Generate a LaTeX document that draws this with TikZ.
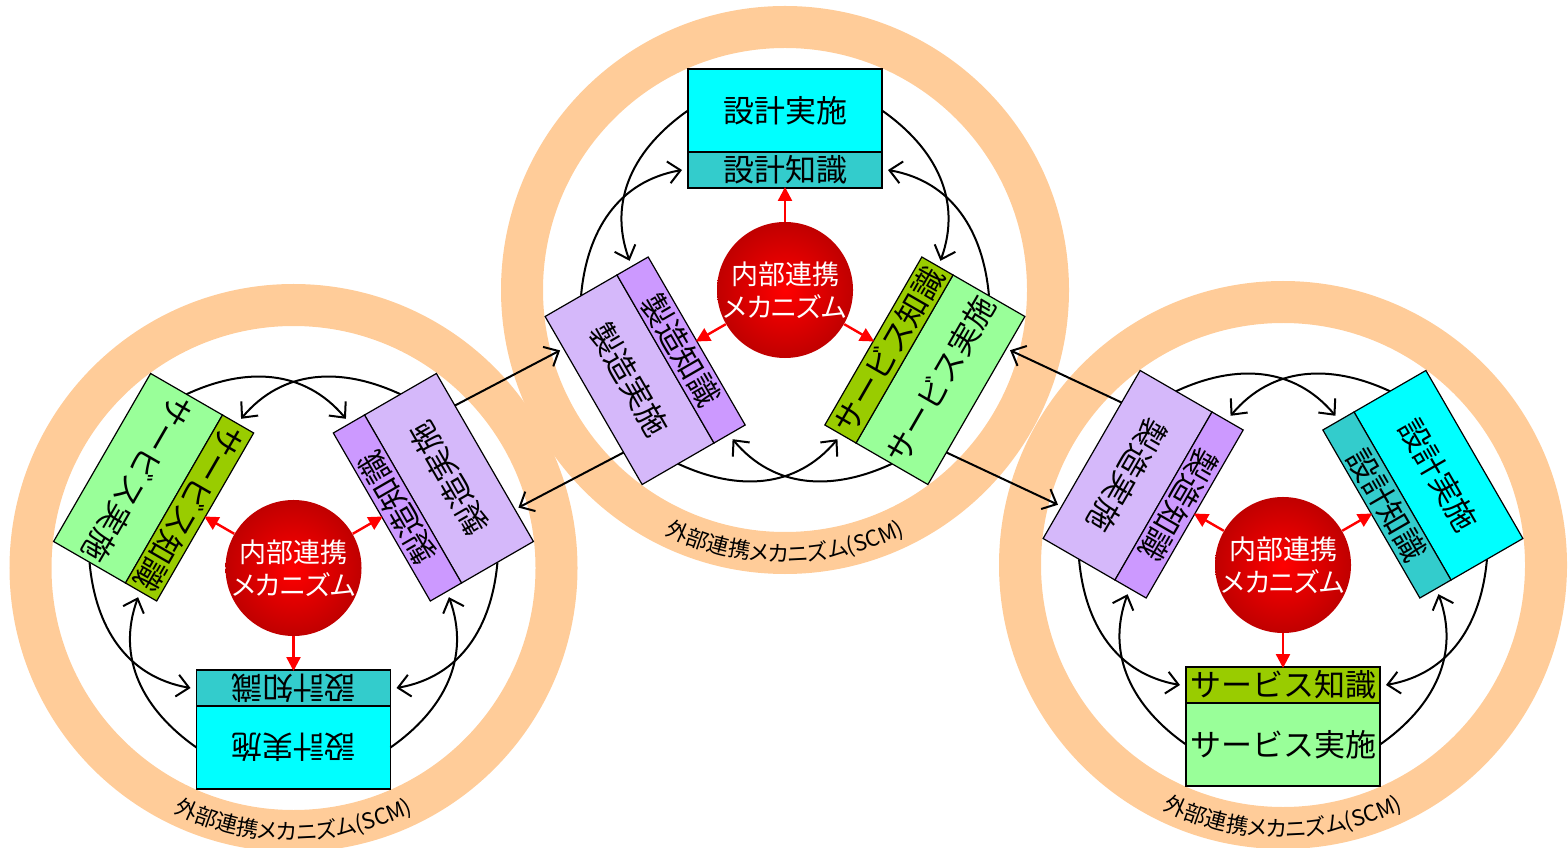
\documentclass[tikz,border=0pt]{standalone}
\usepackage{fontspec}
\setmainfont{Noto Sans CJK JP}
\newfontfamily\propfont[RawFeature=+palt]{Noto Sans CJK JP}
\usepackage{tikz}
\usetikzlibrary{arrows.meta, decorations.text}

\definecolor{ringpeach}{RGB}{255,204,153}
\definecolor{desimpl}{RGB}{0,255,255}
\definecolor{desknow}{RGB}{51,204,204}
\definecolor{mfgimpl}{RGB}{213,184,250}
\definecolor{mfgknow}{RGB}{204,153,255}
\definecolor{svcimpl}{RGB}{153,255,153}
\definecolor{svcknow}{RGB}{153,204,0}
\definecolor{coreedge}{RGB}{192,0,0}

\newcommand{\scmfont}{\propfont\fontsize{11}{13}\selectfont}

% one block: #1 unit, #2 block, #3 angle, #4 text turn,
% #5 implementation fill, #6 knowledge fill, #7 implementation text, #8 knowledge text
\newcommand{\mechblock}[8]{%
  \begin{scope}[rotate=#3]
    \node[implbox, fill=#5, rotate=#4] (#1-#2-impl) at (0,179.5) {#7};
    \node[knowbox, fill=#6, rotate=#4] (#1-#2-know) at (0,120) {#8};
    \coordinate (#1-#2-il) at (-97,179.5); \coordinate (#1-#2-ir) at (97,179.5);
    \coordinate (#1-#2-kl) at (-103,120); \coordinate (#1-#2-kr) at (103,120);
    \coordinate (#1-#2-ki) at (0,103);
    \coordinate (#1-#2-ol) at (-60,221); \coordinate (#1-#2-or) at (60,221);
  \end{scope}}

% one unit with its three blocks: #1 name, #2 centre, #3 rotation
\newcommand{\mechunit}[3]{%
  \node[core] (#1-core) at (#2) {内部連携\\{\propfont メカニズム}};
  \begin{scope}[shift={(#2)}, rotate=#3]
    \mechblock{#1}{d}{0}{0}{desimpl}{desknow}{設計実施}{設計知識}
    \mechblock{#1}{m}{120}{180}{mfgimpl}{mfgknow}{製造実施}{製造知識}
    \mechblock{#1}{s}{240}{180}{svcimpl}{svcknow}{サービス実施}{サービス知識}
    % internal links between the blocks
    \foreach \a/\b/\c/\ang in {d/m/s/0, m/s/d/120, s/d/m/240} {
      \draw[link] (#1-\a-il) .. controls +(215+\ang:65) and +(110+\ang:65) .. (#1-\b-kr);
      \draw[link] (#1-\a-ir) .. controls +(325+\ang:65) and +(70+\ang:65) .. (#1-\c-kl);
      \draw[pulse] (#1-core) -- (#1-\a-ki);
    }
  \end{scope}}

\begin{document}
\begin{tikzpicture}[x=0.5pt, y=0.5pt, ring/.style={draw=ringpeach,
      line width=21pt}, implbox/.style={draw, line width=0.6pt, transform
      shape, minimum width=97pt, minimum height=41.5pt, inner sep=0pt,
      font=\fontsize{15.5}{18}\selectfont}, knowbox/.style={draw, line
      width=0.6pt, transform shape, minimum width=97pt, minimum height=18pt,
      inner sep=0pt, font=\fontsize{15.5}{18}\selectfont},
      core/.style={circle, minimum size=64pt, inner sep=0pt, shading=radial,
      inner color=red, outer color=coreedge, text=white, align=center,
      font=\fontsize{13.5}{16.5}\selectfont}, link/.style={line width=1pt,
      -{Straight Barb[length=6pt,width=11pt]}}, pulse/.style={red, line
      width=1.2pt, -{Triangle[length=7pt,width=7pt]}} ]
    \useasboundingbox (0,0) rectangle (1568,847);

    % Outer rings
    \foreach \p in {{785,557},{293.5,279},{1283,282}}
      \draw[ring] (\p) circle[radius=263];

    % Three units
    \mechunit{T}{785,557}{0}
    \mechunit{L}{293.5,279}{180}
    \mechunit{R}{1283,282}{-60}

    % Links between the units
    \draw[link, shorten >=2pt] (L-m-ol) -- (T-m-or);
    \draw[link, shorten >=2pt] (T-m-ol) -- (L-m-or);
    \draw[link, shorten >=2pt] (R-m-or) -- (T-s-ol);
    \draw[link, shorten >=2pt] (T-s-or) -- (R-m-ol);

    % Ring labels
    \foreach \p in {{785,557},{293.5,279},{1283,282}}
      \path[shift={(\p)}, decorate, decoration={text along path, text
      align=center, text={|\scmfont|外部連携メカニズム(SCM)}}] (230:272)
      arc[start angle=230, end angle=310, radius=272];

\end{tikzpicture}
\end{document}
